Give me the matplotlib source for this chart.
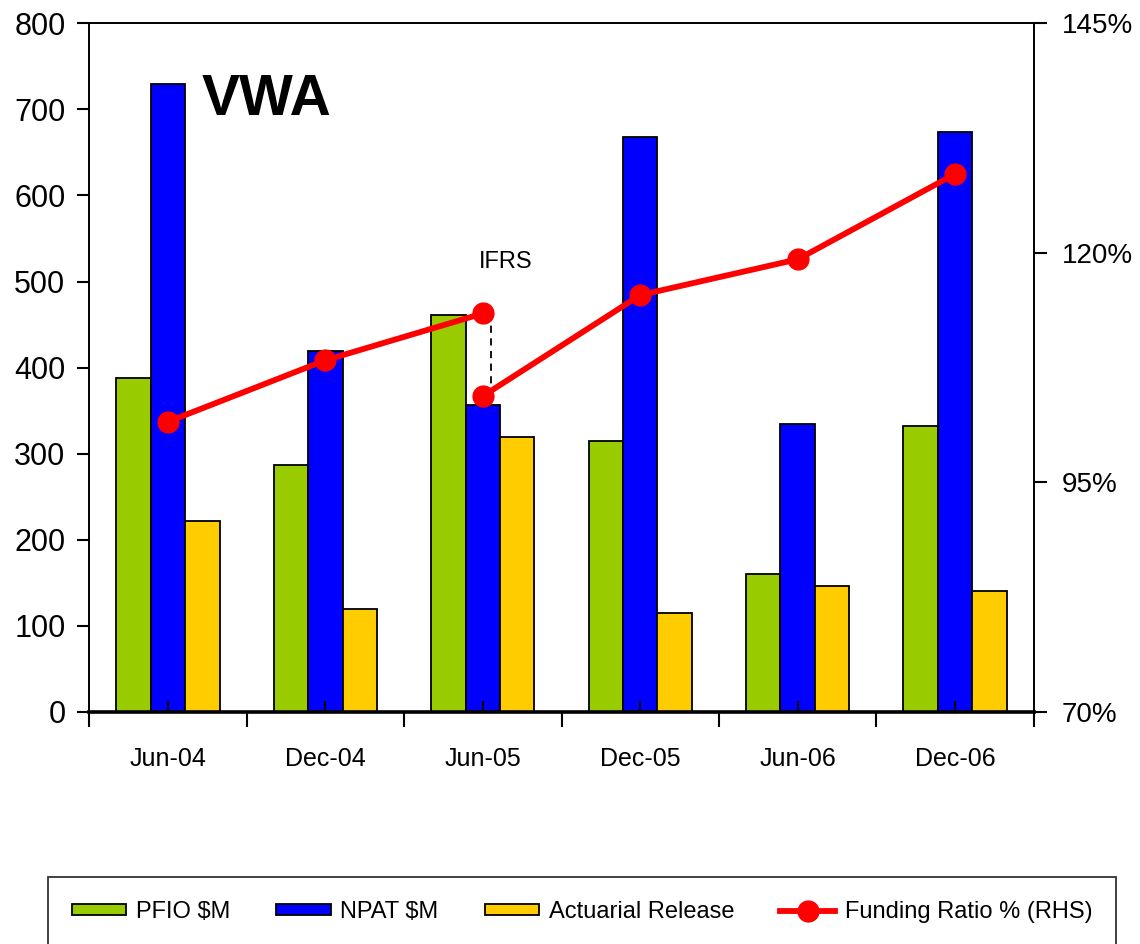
import matplotlib
matplotlib.use("Agg")
import matplotlib.pyplot as plt
import numpy as np
from matplotlib.ticker import FuncFormatter

periods = ["Jun-04", "Dec-04", "Jun-05", "Dec-05", "Jun-06", "Dec-06"]
pfio = [388, 287, 461, 315, 160, 332]
npat = [730, 419, 357, 668, 335, 674]
actuarial = [222, 120, 320, 115, 146, 140]

# funding ratio (%), series restarts at Jun-05 when IFRS came in
funding_pre_ifrs = [101.6, 108.3, 113.4]
funding_post_ifrs = [104.4, 115.4, 119.3, 128.6]

font = ["Liberation Sans", "DejaVu Sans"]

fig = plt.figure(figsize=(11.4, 9.44), dpi=100)
ax = fig.add_axes([0.0781, 0.2458, 0.8289, 0.7295])

x = np.arange(len(periods))
w = 0.219
ax.bar(x - w, pfio, w, color="#99CC00", edgecolor="black", linewidth=1.3, label="PFIO $M")
ax.bar(x, npat, w, color="#0000FF", edgecolor="black", linewidth=1.3, label="NPAT $M")
ax.bar(x + w, actuarial, w, color="#FFCC00", edgecolor="black", linewidth=1.3, label="Actuarial Release")

ax.set_xlim(-0.5, 5.5)
ax.set_ylim(0, 800)
ax.set_yticks(range(0, 801, 100))
ax.set_xticks(x)
ax.set_xticklabels(periods)
ax.set_xticks(np.arange(-0.5, 6, 1), minor=True)
ax.tick_params(axis="x", which="major", direction="in", length=8, width=1.5, pad=25, labelsize=18)
ax.tick_params(axis="x", which="minor", direction="out", length=11, width=1.5)
ax.tick_params(axis="y", direction="out", length=9, width=1.5, pad=8, labelsize=22)
for lbl in ax.get_xticklabels() + ax.get_yticklabels():
    lbl.set_fontfamily(font)
for side in ["left", "top", "right"]:
    ax.spines[side].set_linewidth(1.4)
ax.spines["bottom"].set_linewidth(2.6)

ax2 = ax.twinx()
ax2.set_ylim(70, 145)
ax2.set_yticks([70, 95, 120, 145])
ax2.yaxis.set_major_formatter(FuncFormatter(lambda v, p: "{:.0f}%".format(v)))
ax2.tick_params(axis="y", direction="out", length=9, width=1.5, pad=11, labelsize=20)
for lbl in ax2.get_yticklabels():
    lbl.set_fontfamily(font)
for side in ["left", "top", "right", "bottom"]:
    ax2.spines[side].set_visible(False)

# dashed step where IFRS changed the ratio
ax2.plot([x[2] + 0.05] * 2, [funding_pre_ifrs[-1], funding_post_ifrs[0]],
         color="black", ls=(0, (4, 3)), lw=1.3, zorder=1)
ax2.plot(x[:3], funding_pre_ifrs, color="#FF0000", lw=4.2, marker="o", ms=15,
         label="Funding Ratio % (RHS)", zorder=3)
ax2.plot(x[2:], funding_post_ifrs, color="#FF0000", lw=4.2, marker="o", ms=15, zorder=3)

ax.text(0.624, 693, "VWA", fontsize=41, fontweight="bold", ha="center", va="baseline",
        family=font)
ax.text(2.144, 515.6, "IFRS", fontsize=17, ha="center", va="baseline", family=font)

handles, labels = ax.get_legend_handles_labels()
h2, l2 = ax2.get_legend_handles_labels()
leg = fig.legend(handles + h2, labels + l2, loc="center",
                 bbox_to_anchor=(0.0421, -0.0042, 0.9368, 0.0763), mode="expand",
                 ncol=4, prop={"family": font, "size": 17}, frameon=True,
                 fancybox=False, edgecolor="black", borderpad=1.0, borderaxespad=0,
                 handlelength=2.3, handleheight=0.35, handletextpad=0.42)
leg.get_frame().set_linewidth(1.3)

fig.savefig("out.png", dpi=100)
